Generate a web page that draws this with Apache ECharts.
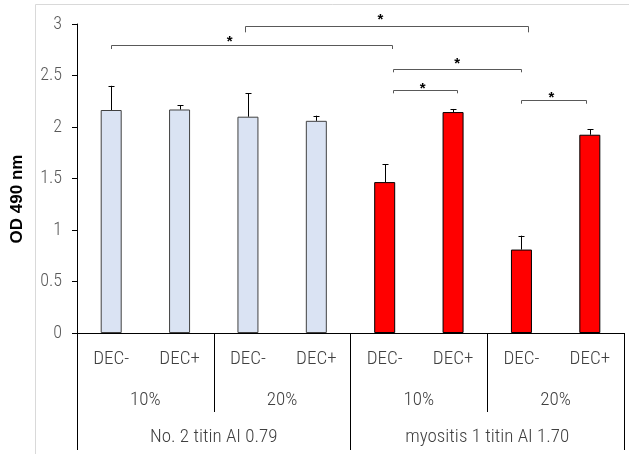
<!DOCTYPE html>
<html><head><meta charset="utf-8">
<script src="https://cdn.jsdelivr.net/npm/echarts@6/dist/echarts.min.js"></script>
<style>html,body{margin:0;padding:0;background:#fff}#c{width:629px;height:454px}</style>
</head><body><div id="c"></div>
<script>
// ---- data ----
const decLabels = ['DEC-','DEC+','DEC-','DEC+','DEC-','DEC+','DEC-','DEC+'];
const pctLabels = ['10%','20%','10%','20%'];
const groupLabels = ['No. 2 titin AI 0.79','myositis 1 titin AI 1.70'];
const means = [2.165, 2.17, 2.10, 2.06, 1.465, 2.145, 0.81, 1.925];
const errTops = [2.40, 2.21, 2.33, 2.11, 1.64, 2.175, 0.945, 1.98];
const barGroup = [0,0,0,0,1,1,1,1];
const yTicks = [0, 0.5, 1, 1.5, 2, 2.5, 3];
// significance brackets (x in category-index units, y in OD units)
const brStart = [0, 1.96, 4.12, 4.12, 6.0];
const brEnd   = [4.11, 6.10, 6.0, 5.06, 6.94];
const brY     = [2.80, 2.983, 2.563, 2.36, 2.265];
const brFoot  = [2.757, 2.919, 2.531, 2.327, 2.226];
const starX   = [1.734, 3.938, 5.06, 4.556, 6.439];
const starY   = [2.861, 3.07, 2.644, 2.408, 2.32];
const starText = ['*','*','*','*','*'];

const fillColors = ['#dae3f3', '#ff0000'];
const edgeColors = ['#404040', '#000000'];
const LF = '"Roboto Condensed", "DejaVu Sans Condensed", "Liberation Sans", sans-serif';

const chart = echarts.init(document.getElementById('c'), null, {renderer:'canvas'});
const option = {
  animation: false,
  backgroundColor: '#fff',
  graphic: [{type:'rect', shape:{x:35.5, y:4.5, width:700, height:600}, style:{fill:'none', stroke:'#d9d9d9', lineWidth:1}, z:-10, silent:true}],
  grid: {left:77, right:5, top:24, bottom:121, containLabel:false, outerBoundsMode:'none'},
  xAxis: [
    {type:'category', data: decLabels, position:'bottom',
     axisLine:{show:true, onZero:false, lineStyle:{color:'#000', width:1}}, axisTick:{show:false},
     axisLabel:{interval:0, margin:16, color:'#404040', fontSize:19, lineHeight:20, fontWeight:300, fontFamily:LF}},
    {type:'category', data: pctLabels, position:'bottom',
     axisLine:{show:false, onZero:false}, axisTick:{show:true, interval:0, length:79, lineStyle:{color:'#000', width:1}},
     axisLabel:{interval:0, margin:57, color:'#404040', fontSize:19, lineHeight:20, fontWeight:300, fontFamily:LF}},
    {type:'category', data: groupLabels, position:'bottom',
     axisLine:{show:false, onZero:false}, axisTick:{show:true, interval:0, length:117, lineStyle:{color:'#000', width:1}},
     axisLabel:{interval:0, margin:94, color:'#404040', fontSize:19, lineHeight:20, fontWeight:300, fontFamily:LF}},
    {type:'value', min:-0.5, max:7.5, show:false, axisLine:{onZero:false}}
  ],
  yAxis: {type:'value', min:yTicks[0], max:yTicks[yTicks.length-1], interval:0.5,
    name:'OD 490 nm', nameLocation:'middle', nameRotate:90, nameGap:51,
    nameTextStyle:{fontFamily:'"Liberation Sans", Arial, sans-serif', fontWeight:'bold', fontSize:17, color:'#000', padding:[0,41,0,0]},
    axisLine:{show:true, onZero:false, lineStyle:{color:'#000', width:1}},
    axisTick:{show:true, length:5, lineStyle:{color:'#000'}},
    splitLine:{show:false},
    axisLabel:{margin:15, color:'#595959', fontSize:18, fontWeight:300, fontFamily:LF}},
  series: [
    {type:'bar', xAxisIndex:0, barWidth:21,
     data: means.map((v,i)=>({value:v, itemStyle:{color:fillColors[barGroup[i]], borderColor:edgeColors[barGroup[i]], borderWidth:1}}))},
    {type:'custom', xAxisIndex:3, yAxisIndex:0, z:5,
     data: means.map((v,i)=>[i, v, errTops[i]]),
     renderItem: function(params, api){
       const p0 = api.coord([api.value(0), api.value(1)]);
       const p1 = api.coord([api.value(0), api.value(2)]);
       const x = Math.round(p0[0]) + 0.5;
       return {type:'group', children:[
         {type:'line', shape:{x1:x, y1:p0[1], x2:x, y2:p1[1]}, style:{stroke:'#000', lineWidth:1}},
         {type:'line', shape:{x1:x-3, y1:Math.round(p1[1])+0.5, x2:x+3, y2:Math.round(p1[1])+0.5}, style:{stroke:'#000', lineWidth:1}}
       ]};
     }},
    {type:'custom', xAxisIndex:3, yAxisIndex:0, z:6,
     data: brStart.map((s,i)=>[s, brEnd[i], brY[i], brFoot[i], starX[i], starY[i]]),
     renderItem: function(params, api){
       const i = params.dataIndex;
       const a = api.coord([api.value(0), api.value(2)]);
       const b = api.coord([api.value(1), api.value(2)]);
       const af = api.coord([api.value(0), api.value(3)]);
       const st = api.coord([api.value(4), api.value(5)]);
       const y = Math.round(a[1]) + 0.5;
       const xa = Math.round(a[0]) + 0.5, xb = Math.round(b[0]) + 0.5;
       return {type:'group', children:[
         {type:'polyline', shape:{points:[[xa, af[1]], [xa, y], [xb, y], [xb, af[1]]]}, style:{stroke:'#595959', lineWidth:1, fill:null}},
         {type:'text', x: st[0], y: st[1]-4, style:{text: starText[i], fill:'#000', font:'bold 15px "Liberation Sans", Arial, sans-serif', align:'center', verticalAlign:'top'}}
       ]};
     }}
  ]
};
chart.setOption(option);
</script></body></html>
